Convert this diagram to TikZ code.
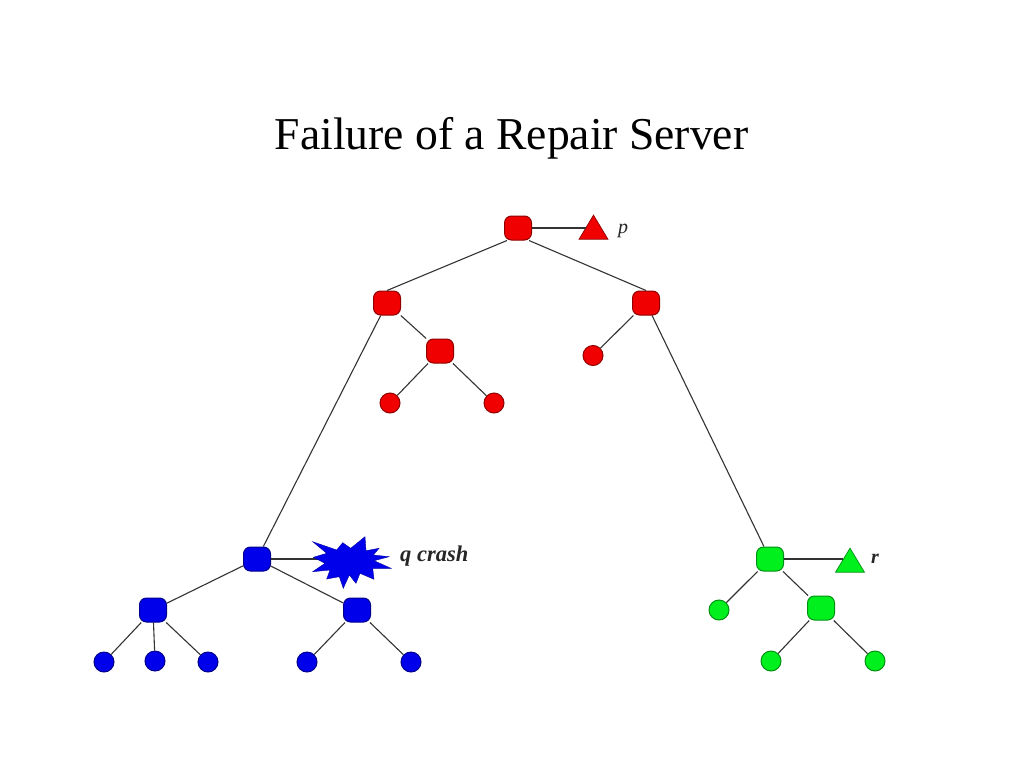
\documentclass[tikz,border=0pt]{standalone}
\usepackage{fontspec}
\setmainfont{Liberation Serif}
\usetikzlibrary{shapes.geometric}
\definecolor{nred}{RGB}{240,0,0}
\definecolor{nblue}{RGB}{0,0,235}
\definecolor{ngreen}{RGB}{0,240,30}
\tikzset{
 router/.style={rectangle,rounded corners=7pt,minimum width=27pt,minimum height=24pt,inner sep=0pt,draw=#1!60!black,fill=#1,line width=1pt},
 leaf/.style={circle,minimum size=20pt,inner sep=0pt,draw=#1!60!black,fill=#1,line width=1pt},
 src/.style={isosceles triangle,isosceles triangle apex angle=62,shape border rotate=90,minimum height=24pt,minimum width=25pt,inner sep=0pt,draw=#1!60!black,fill=#1,line width=0.7pt},
 link/.style={draw=black!80,line width=1.1pt},
 lab/.style={inner sep=0pt,font=\fontsize{20}{24}\selectfont\itshape\bfseries,text=black!85}
}
\begin{document}
\begin{tikzpicture}[x=1pt,y=-1pt]
\useasboundingbox[fill=white] (0,0) rectangle (1024,768);
\node[inner sep=0pt,font=\fontsize{45.6}{54}\selectfont] (title) at (511.5,138) {Failure of a Repair Server};
% red
\node[router=nred] (root) at (518,228) {};
\node[src=nred] (p) at (593.5,231) {};
\coordinate (pin) at (586,228);
\node[lab,font=\fontsize{20}{24}\selectfont\itshape] (plab) at (623,231) {p};
\node[router=nred] (L) at (387,303) {};
\node[router=nred] (R) at (646,303) {};
\node[router=nred] (LM) at (440,351) {};
\node[leaf=nred] (l1) at (390,403) {};
\node[leaf=nred] (l2) at (494,403) {};
\node[leaf=nred] (r1) at (593,355.5) {};
% blue
\node[router=nblue] (q) at (257,559) {};
\node[router=nblue] (b1) at (153,610) {};
\node[router=nblue] (b2) at (357,610) {};
\node[leaf=nblue] (c1) at (104,662) {};
\node[leaf=nblue] (c2) at (155,661) {};
\node[leaf=nblue] (c3) at (208,662) {};
\node[leaf=nblue] (c4) at (307,662) {};
\node[leaf=nblue] (c5) at (411,662) {};
\coordinate (crash) at (330,559);
% green
\node[router=ngreen] (g) at (770,559) {};
\node[src=ngreen] (t) at (850,564) {};
\coordinate (tin) at (843,559);
\node[lab] (rlab) at (875,559) {r};
\node[leaf=ngreen] (g1) at (719,610) {};
\node[router=ngreen] (g2) at (821,608) {};
\node[leaf=ngreen] (g3) at (771,661) {};
\node[leaf=ngreen] (g4) at (875,661) {};
\node[lab,font=\fontsize{22.5}{26}\selectfont\itshape\bfseries,anchor=west] (qlab) at (400,556) {q crash};
% links
\foreach \a/\b in {root.east/pin,L/LM,LM/l1,LM/l2,R/r1,L/q,R/g,q.east/crash,q/b1,q/b2,b1/c1,b1/c2,b1/c3,b2/c4,b2/c5,g.east/tin,g/g1,g/g2,g2/g3,g2/g4}
  \draw[link] (\a) -- (\b);
\draw[link] ([xshift=3pt]root.south west) -- (L.north);
\draw[link] ([xshift=-3pt]root.south east) -- (R.north);
% crash star
\fill[nblue,draw=nblue!70!black,line width=0.4pt] (312.7,541.7) -- (336.7,550) -- (342.7,542.7) -- (350.7,548.3) -- (365,536.7) -- (366,550.7) -- (379,548.3) -- (373.3,555) -- (389,556.7) -- (374,560.7) -- (391,568.3) -- (372.7,568.3) -- (374,579.3) -- (360,573.3) -- (356,583.3) -- (349.3,575) -- (343.3,588.3) -- (339.3,576.7) -- (326.7,579) -- (330,570) -- (312.7,571.7) -- (325,563.3) -- (313.3,557.3) -- (326.7,553.3) -- cycle;
\end{tikzpicture}
\end{document}
